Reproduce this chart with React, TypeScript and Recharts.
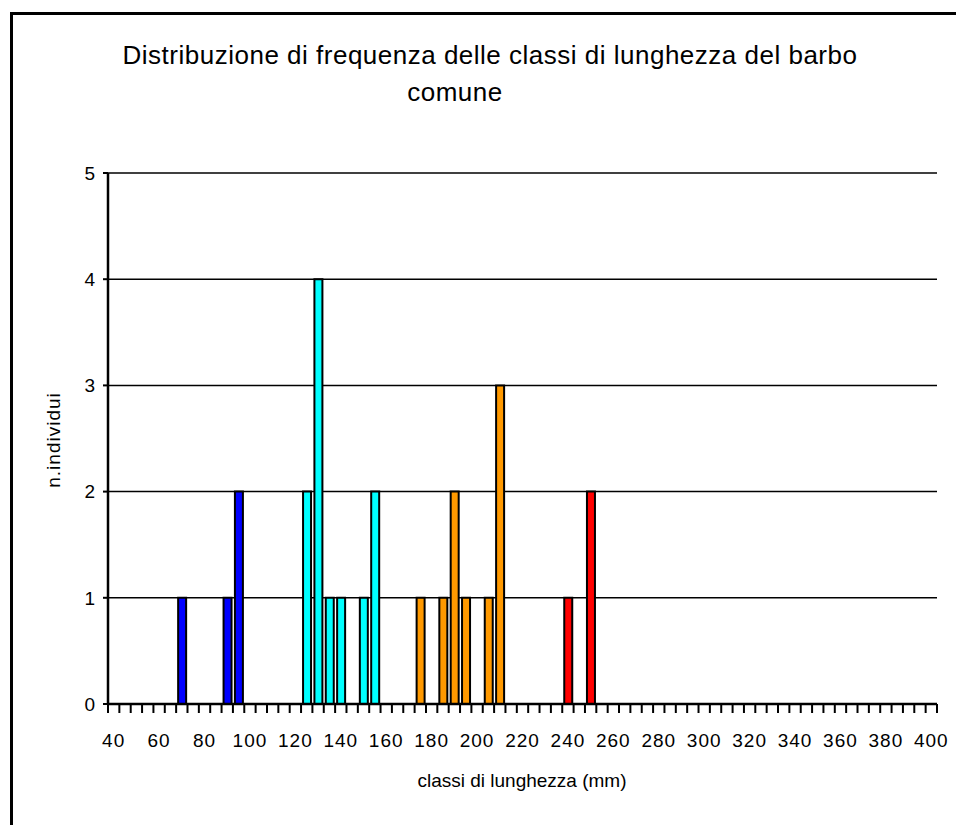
import React from 'react';
import { BarChart, Bar, XAxis, YAxis, CartesianGrid } from 'recharts';

// Length classes (mm) on the category axis
const classes = [
  40, 45, 50, 55, 60, 65, 70, 75, 80, 85, 90, 95, 100, 105, 110, 115, 120, 125, 130, 135,
  140, 145, 150, 155, 160, 165, 170, 175, 180, 185, 190, 195, 200, 205, 210, 215, 220, 225,
  230, 235, 240, 245, 250, 255, 260, 265, 270, 275, 280, 285, 290, 295, 300, 305, 310, 315,
  320, 325, 330, 335, 340, 345, 350, 355, 360, 365, 370, 375, 380, 385, 390, 395, 400,
];

// [class, number of individuals] for each coloured series
const blueBars: [number, number][] = [[70, 1], [90, 1], [95, 2]];
const cyanBars: [number, number][] = [[125, 2], [130, 4], [135, 1], [140, 1], [150, 1], [155, 2]];
const orangeBars: [number, number][] = [[175, 1], [185, 1], [190, 2], [195, 1], [205, 1], [210, 3]];
const redBars: [number, number][] = [[240, 1], [250, 2]];

const yTicks = [0, 1, 2, 3, 4, 5];
const xLabelStep = 4;

const titleLine1 = 'Distribuzione di frequenza delle classi di lunghezza del barbo';
const titleLine2 = 'comune';
const xTitle = 'classi di lunghezza (mm)';
const yTitle = 'n.individui';

const series = [
  { key: 'blue', color: '#0000FF', bars: blueBars },
  { key: 'cyan', color: '#00FFFF', bars: cyanBars },
  { key: 'orange', color: '#FF9900', bars: orangeBars },
  { key: 'red', color: '#FF0000', bars: redBars },
];

const data = classes.map((c) => {
  const row: Record<string, any> = { cls: String(c) };
  for (const s of series) {
    const hit = s.bars.find((b) => b[0] === c);
    row[s.key] = hit ? hit[1] : null;
  }
  return row;
});

const W = 956;
const H = 825;
const M = { top: 173, right: 19, left: 48, bottom: 91 };
const Y_AXIS_W = 60;
const X_AXIS_H = 30;
const PLOT_W = W - M.left - Y_AXIS_W - M.right;
const BAND = PLOT_W / classes.length;
const FONT = '"Liberation Sans", Arial, Helvetica, sans-serif';

function XTick(props: any) {
  const { x, y, payload } = props;
  const half = typeof payload?.offset === 'number' && payload.offset > 0 ? payload.offset : BAND / 2;
  const i = typeof payload?.index === 'number' ? payload.index : props.index;
  const last = i === classes.length - 1;
  return (
    <g>
      <line x1={x - half} x2={x - half} y1={y} y2={y + 9} stroke="#000" strokeWidth={2} />
      {last && <line x1={x + half} x2={x + half} y1={y} y2={y + 9} stroke="#000" strokeWidth={2} />}
      {i % xLabelStep === 0 && (
        <text x={x} y={y + 43} textAnchor="middle" fontSize={19} fontFamily={FONT} fill="#000" letterSpacing={1}>
          {payload.value}
        </text>
      )}
    </g>
  );
}

export default function App() {
  return (
    <div style={{ position: 'absolute', left: 0, top: 0, width: W, height: H, overflow: 'hidden', background: '#fff' }}>
      <div
        style={{
          position: 'absolute',
          left: 10,
          top: 12,
          width: 1000,
          height: 900,
          border: '3px solid #000',
          boxSizing: 'border-box',
        }}
      />
      <div style={{ position: 'absolute', left: 0, top: 0 }}>
        <BarChart width={W} height={H} data={data} margin={M} barSize={8}>
          <CartesianGrid vertical={false} stroke="#000" strokeWidth={1.5} />
          <XAxis
            dataKey="cls"
            type="category"
            interval={0}
            height={X_AXIS_H}
            tickSize={0}
            tickMargin={0}
            tickLine={false}
            axisLine={{ stroke: '#000', strokeWidth: 2.5 }}
            tick={<XTick />}
          />
          <YAxis
            type="number"
            domain={[0, 5]}
            ticks={yTicks}
            interval={0}
            width={Y_AXIS_W}
            tickSize={5}
            tickMargin={8}
            axisLine={{ stroke: '#000', strokeWidth: 2.5 }}
            tickLine={{ stroke: '#000', strokeWidth: 2 }}
            tick={{ fontSize: 19, fill: '#000', fontFamily: FONT }}
          />
          {series.map((s) => (
            <Bar
              key={s.key}
              dataKey={s.key}
              stackId="a"
              fill={s.color}
              stroke="#000"
              strokeWidth={2}
              isAnimationActive={false}
            />
          ))}
        </BarChart>
      </div>
      <svg width={W} height={H} style={{ position: 'absolute', left: 0, top: 0, pointerEvents: 'none' }}>
        <text x={490} y={64} textAnchor="middle" fontSize={26} fontFamily={FONT} fill="#000" letterSpacing={0.5}>
          {titleLine1}
        </text>
        <text x={455} y={101} textAnchor="middle" fontSize={26} fontFamily={FONT} fill="#000" letterSpacing={0.5}>
          {titleLine2}
        </text>
        <text x={522} y={787} textAnchor="middle" fontSize={19} fontFamily={FONT} fill="#000">
          {xTitle}
        </text>
        <text
          x={60}
          y={440}
          textAnchor="middle"
          fontSize={19}
          fontFamily={FONT}
          fill="#000"
          letterSpacing={1}
          transform="rotate(-90, 60, 440)"
        >
          {yTitle}
        </text>
      </svg>
    </div>
  );
}
